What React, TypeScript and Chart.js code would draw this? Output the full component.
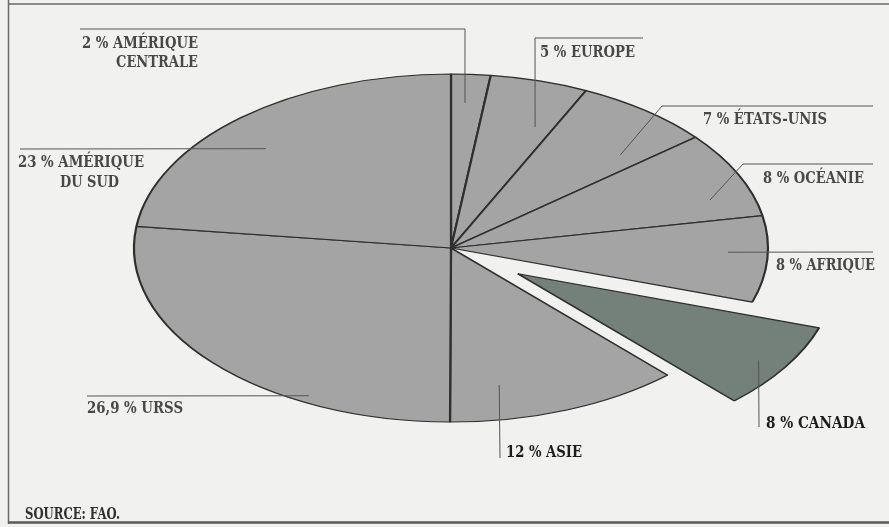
import React, { useEffect, useRef } from 'react';
import { Chart, PieController, ArcElement } from 'chart.js';

Chart.register(PieController, ArcElement);

// ---- data ----
const regions = ['AMÉRIQUE CENTRALE', 'EUROPE', 'ÉTATS-UNIS', 'OCÉANIE', 'AFRIQUE', 'CANADA', 'ASIE', 'URSS', 'AMÉRIQUE DU SUD'];
const shares = [2, 5, 7, 8, 8, 8, 12, 26.9, 23];
const labelRows = [['AMÉRIQUE', 'CENTRALE'], ['EUROPE'], ['ÉTATS-UNIS'], ['OCÉANIE'], ['AFRIQUE'], ['CANADA'], ['ASIE'], ['URSS'], ['AMÉRIQUE', 'DU SUD']];
const explodedRegion = 'CANADA';
const sourceText = 'SOURCE: FAO.';

// ---- layout / style ----
const W = 889;
const H = 527;
const ELLIPSE = { cx: 451, cy: 248, rx: 317, ry: 174 };
const BASE_RADIUS = 200;
const EXPLODE = 0.25;
const FILL = '#a4a4a4';
const FILL_HI = '#74807a';
const EDGE = '#2f2f2f';
const BG = '#f1f1ef';
const FONT = 'bold 16px "DejaVu Serif", "Liberation Serif", serif';

type Row = { x: number; y: number; w: number; align?: 'left' | 'right' };
type Lay = { t: number; f: number; path: number[][]; rows: Row[]; dark?: boolean };

const labelLayout: Lay[] = [
  { t: 0.42, f: 0.8345, path: [[465, 29], [80, 29]], rows: [{ x: 198, y: 47.5, w: 116, align: 'right' }, { x: 198, y: 66.5, w: 82, align: 'right' }] },
  { t: 0.76, f: 0.744, path: [[535, 38], [643, 38]], rows: [{ x: 540, y: 57, w: 95 }] },
  { t: 0.784, f: 0.755, path: [[662, 106], [873, 106]], rows: [{ x: 703, y: 124, w: 124 }] },
  { t: 0.726, f: 0.862, path: [[743, 164], [873, 164]], rows: [{ x: 763, y: 183, w: 101 }] },
  { t: 0.427, f: 0.874, path: [[873, 252]], rows: [{ x: 776, y: 269.5, w: 99 }] },
  { t: 0.528, f: 0.909, path: [[759, 427]], rows: [{ x: 766, y: 427.5, w: 99 }], dark: true },
  { t: 0.743, f: 0.802, path: [[500, 458]], rows: [{ x: 506, y: 457, w: 76 }], dark: true },
  { t: 0.285, f: 0.96, path: [[87, 396]], rows: [{ x: 87, y: 413, w: 96 }] },
  { t: 0.449, f: 0.817, path: [[20, 149]], rows: [{ x: 18, y: 166.5, w: 126 }, { x: 60, y: 186.5, w: 59 }] },
];
const SOURCE_POS = { x: 25, y: 519, w: 95 };

const fmt = (v: number) => String(v).replace('.', ',');

function fitText(ctx: CanvasRenderingContext2D, text: string, x: number, y: number, w: number, align: 'left' | 'right' = 'left') {
  const m = ctx.measureText(text).width;
  const s = w / m;
  ctx.save();
  ctx.translate(align === 'right' ? x - w : x, y);
  ctx.scale(s, 1);
  ctx.textAlign = 'left';
  ctx.textBaseline = 'alphabetic';
  ctx.fillText(text, 0, 0);
  ctx.restore();
}

function explodeShift(i: number, p: any) {
  if (regions[i] !== explodedRegion) return [0, 0];
  const mid = (p.startAngle + p.endAngle) / 2;
  return [Math.cos(mid) * EXPLODE * p.outerRadius, Math.sin(mid) * EXPLODE * p.outerRadius * 1.1];
}

const backgroundPlugin = {
  id: 'paper',
  beforeDraw(chart: any) {
    const ctx = chart.ctx;
    ctx.save();
    ctx.fillStyle = BG;
    ctx.fillRect(0, 0, chart.width, chart.height);
    ctx.restore();
  },
};

const ellipsePlugin = {
  id: 'ellipsePie',
  beforeDatasetDraw(chart: any, args: any) {
    const ctx = chart.ctx;
    args.meta.data.forEach((el: any, i: number) => {
      const p = el.getProps(['x', 'y', 'startAngle', 'endAngle', 'outerRadius'], true);
      const sx = ELLIPSE.rx / p.outerRadius;
      const sy = ELLIPSE.ry / p.outerRadius;
      const [ox, oy] = explodeShift(i, p);
      ctx.save();
      ctx.translate(ELLIPSE.cx, ELLIPSE.cy);
      ctx.scale(sx, sy);
      ctx.translate(-p.x + ox, -p.y + oy);
      el.draw(ctx, chart.chartArea);
      ctx.restore();
    });
    return false;
  },
};

const labelsPlugin = {
  id: 'leaderLabels',
  afterDraw(chart: any) {
    const ctx = chart.ctx;
    const meta = chart.getDatasetMeta(0);
    ctx.save();
    // frame
    ctx.strokeStyle = '#6a6a6a';
    ctx.lineWidth = 1.5;
    ctx.beginPath();
    ctx.moveTo(8, 4);
    ctx.lineTo(W, 4);
    ctx.moveTo(8.5, 0);
    ctx.lineTo(8.5, 524);
    ctx.stroke();
    ctx.strokeStyle = '#5a5a5a';
    ctx.lineWidth = 2.5;
    ctx.beginPath();
    ctx.moveTo(8, 522.5);
    ctx.lineTo(W, 522.5);
    ctx.stroke();

    ctx.font = FONT;
    labelLayout.forEach((L, i) => {
      const el = meta.data[i];
      if (!el) return;
      const p = el.getProps(['x', 'y', 'startAngle', 'endAngle', 'outerRadius'], true);
      const a = p.startAngle + L.t * (p.endAngle - p.startAngle);
      const [ox, oy] = explodeShift(i, p);
      const px = L.f * p.outerRadius * Math.cos(a) + ox;
      const py = L.f * p.outerRadius * Math.sin(a) + oy;
      const ax = ELLIPSE.cx + (px * ELLIPSE.rx) / p.outerRadius;
      const ay = ELLIPSE.cy + (py * ELLIPSE.ry) / p.outerRadius;
      ctx.strokeStyle = '#555555';
      ctx.lineWidth = 1;
      ctx.beginPath();
      ctx.moveTo(ax, ay);
      L.path.forEach(([x, y]) => ctx.lineTo(x, y));
      ctx.stroke();

      ctx.fillStyle = L.dark ? '#1c1c1c' : '#484848';
      const rows = labelRows[i];
      rows.forEach((r, k) => {
        const text = k === 0 ? `${fmt(shares[i])} % ${r}` : r;
        const R = L.rows[k];
        fitText(ctx, text, R.x, R.y, R.w, R.align || 'left');
      });
    });
    ctx.fillStyle = '#2e2e2e';
    fitText(ctx, sourceText, SOURCE_POS.x, SOURCE_POS.y, SOURCE_POS.w);
    ctx.restore();
  },
};

export default function App() {
  const ref = useRef<HTMLCanvasElement | null>(null);
  useEffect(() => {
    if (!ref.current) return;
    const chart = new Chart(ref.current, {
      type: 'pie',
      data: {
        labels: regions,
        datasets: [
          {
            data: shares,
            backgroundColor: regions.map((r) => (r === explodedRegion ? FILL_HI : FILL)),
            borderColor: EDGE,
            borderWidth: 1.4,
            radius: BASE_RADIUS,
          } as any,
        ],
      },
      options: {
        responsive: false,
        maintainAspectRatio: false,
        devicePixelRatio: 1,
        animation: false,
        events: [],
        layout: { padding: 0 },
        plugins: { legend: { display: false }, tooltip: { enabled: false } } as any,
      },
      plugins: [backgroundPlugin, ellipsePlugin, labelsPlugin],
    });
    return () => chart.destroy();
  }, []);
  return (
    <div style={{ position: 'fixed', left: 0, top: 0, width: W, height: H, background: BG }}>
      <canvas ref={ref} width={W} height={H} style={{ display: 'block' }} />
    </div>
  );
}
